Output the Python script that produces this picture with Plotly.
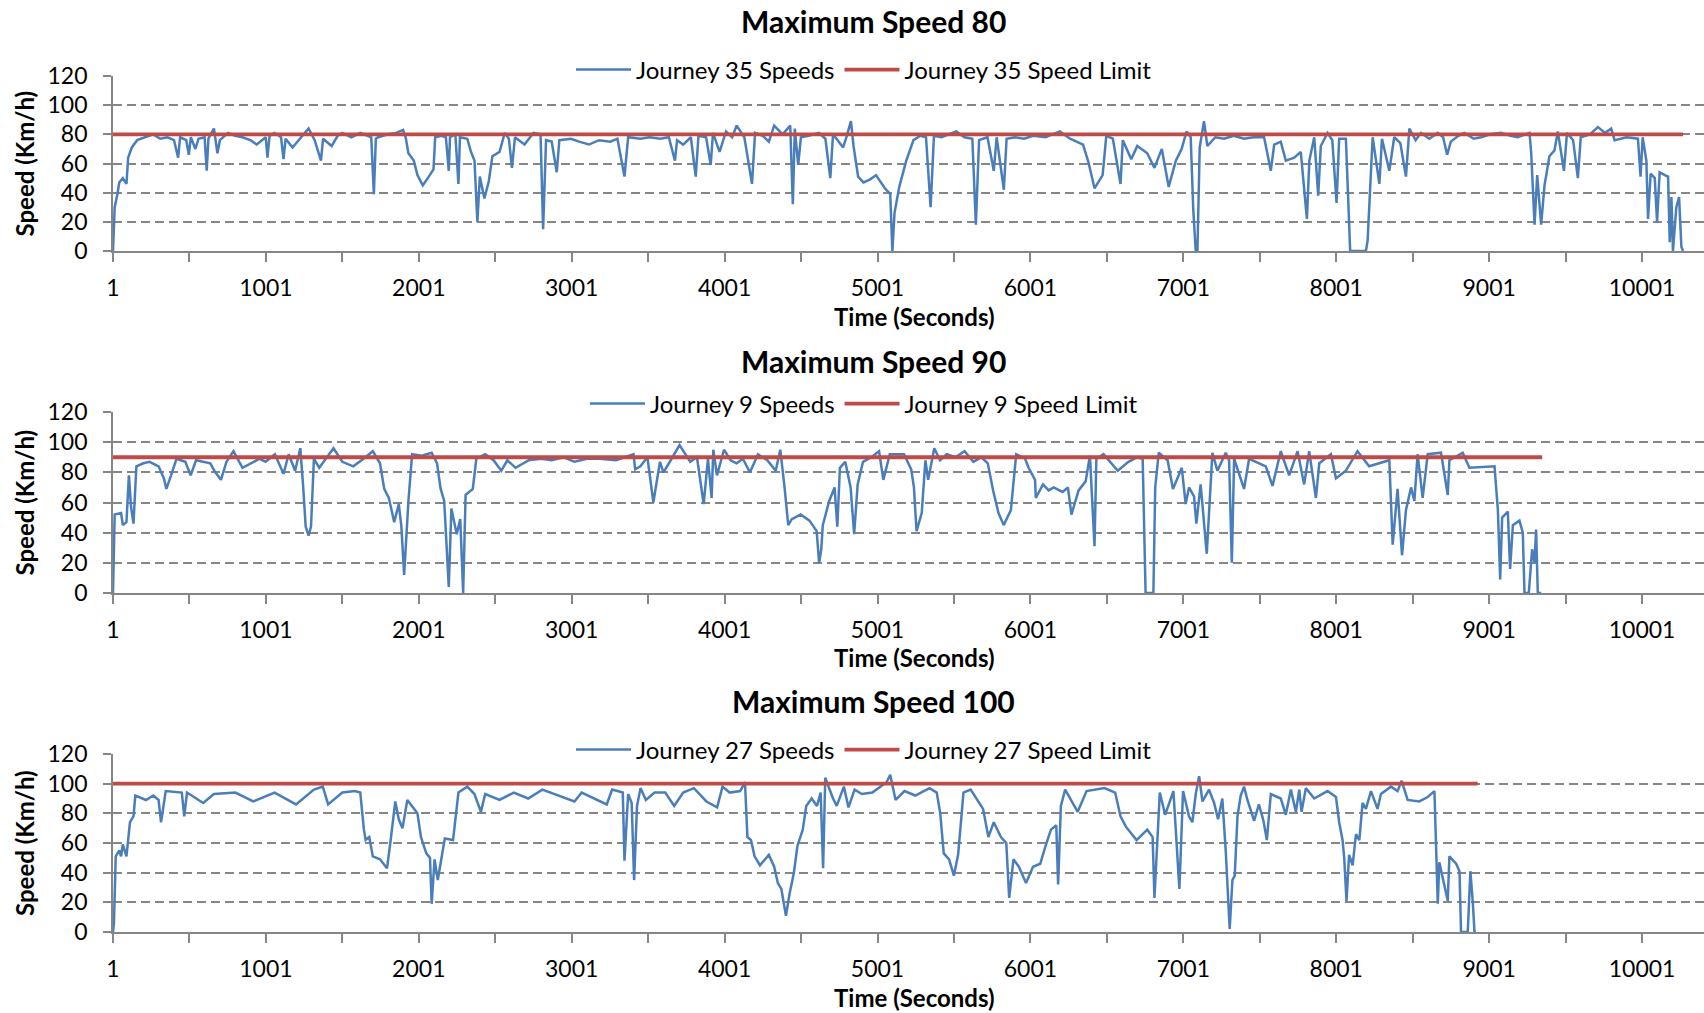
import plotly.graph_objects as go

# Journey 35, limit 80 km/h (time in seconds, speed in km/h)
j35_time = [
    1, 12, 30, 42, 65, 89, 100, 124, 159, 217,
    264, 310, 357, 400, 427, 440, 480, 497, 510, 540,
    560, 600, 614, 625, 661, 684, 700, 754, 800, 848,
    900, 941, 1000, 1011, 1025, 1058, 1100, 1116, 1130, 1175,
    1230, 1280, 1320, 1361, 1375, 1431, 1470, 1501, 1560, 1618,
    1690, 1707, 1720, 1735, 1800, 1852, 1898, 1915, 1933, 1968,
    1992, 2027, 2060, 2097, 2108, 2150, 2178, 2197, 2205, 2240,
    2260, 2270, 2318, 2342, 2365, 2384, 2400, 2430, 2459, 2482,
    2529, 2563, 2590, 2610, 2630, 2692, 2751, 2797, 2814, 2833,
    2870, 2903, 2920, 2996, 3050, 3113, 3180, 3253, 3300, 3346,
    3370, 3450, 3510, 3580, 3636, 3676, 3690, 3730, 3780, 3812,
    3830, 3880, 3910, 3925, 3968, 4010, 4050, 4080, 4130, 4180,
    4200, 4250, 4290, 4325, 4380, 4430, 4447, 4460, 4482, 4500,
    4550, 4617, 4660, 4692, 4710, 4776, 4800, 4827, 4844, 4874,
    4909, 4950, 4991, 5049, 5084, 5098, 5112, 5143, 5189, 5236,
    5280, 5318, 5348, 5370, 5420, 5470, 5516, 5570, 5621, 5644,
    5665, 5720, 5761, 5780, 5827, 5845, 5900, 5960, 6018, 6100,
    6193, 6260, 6345, 6380, 6420, 6473, 6497, 6540, 6590, 6605,
    6660, 6700, 6765, 6812, 6860, 6905, 6952, 6990, 7022, 7049,
    7066, 7082, 7093, 7108, 7136, 7158, 7210, 7267, 7330, 7398,
    7460, 7529, 7573, 7595, 7638, 7671, 7726, 7769, 7809, 7825,
    7857, 7883, 7900, 7944, 7975, 8003, 8020, 8064, 8092, 8195,
    8206, 8239, 8283, 8300, 8348, 8380, 8420, 8457, 8479, 8520,
    8555, 8610, 8664, 8700, 8726, 8750, 8800, 8839, 8900, 8948,
    9010, 9079, 9140, 9188, 9265, 9276, 9298, 9315, 9341, 9363,
    9395, 9428, 9450, 9490, 9510, 9550, 9581, 9600, 9660, 9712,
    9760, 9799, 9821, 9900, 9974, 9991, 10005, 10029, 10040, 10057,
    10084, 10099, 10116, 10150, 10171, 10182, 10193, 10203, 10225, 10243,
    10258, 10269,
]
j35_speed = [
    0, 30, 39, 47, 50, 46, 64, 71, 76, 78,
    80, 77, 78, 76, 64, 78, 76, 66, 78, 70,
    77, 78, 55, 77, 84, 67, 76, 81, 79, 78,
    76, 73, 78, 64, 79, 81, 78, 63, 77, 71,
    78, 84, 76, 62, 77, 72, 79, 81, 78, 81,
    78, 39, 77, 78, 80, 81, 83, 78, 67, 62,
    52, 45, 50, 56, 78, 79, 78, 55, 78, 80,
    46, 78, 77, 68, 62, 20, 51, 36, 48, 65,
    68, 81, 77, 57, 78, 73, 81, 80, 15, 76,
    75, 54, 76, 77, 75, 73, 76, 75, 77, 51,
    78, 77, 78, 77, 78, 62, 76, 73, 78, 51,
    79, 78, 59, 81, 68, 82, 78, 86, 78, 46,
    81, 79, 75, 86, 80, 86, 32, 84, 59, 78,
    79, 81, 77, 50, 80, 71, 79, 89, 72, 51,
    47, 49, 52, 43, 39, 0, 26, 44, 62, 76,
    79, 78, 30, 79, 78, 80, 82, 78, 77, 18,
    76, 78, 55, 78, 42, 77, 78, 77, 79, 78,
    82, 77, 73, 61, 43, 52, 79, 77, 46, 76,
    63, 72, 67, 57, 70, 44, 62, 70, 82, 78,
    28, 0, 0, 71, 89, 72, 78, 77, 79, 77,
    78, 78, 55, 73, 75, 62, 64, 68, 22, 62,
    78, 38, 72, 81, 76, 33, 77, 77, 0, 0,
    7, 78, 46, 77, 55, 78, 74, 51, 84, 76,
    81, 77, 81, 78, 66, 75, 79, 81, 77, 78,
    80, 81, 79, 78, 81, 67, 18, 52, 18, 45,
    65, 69, 82, 55, 81, 76, 50, 78, 80, 85,
    81, 84, 76, 78, 77, 51, 78, 62, 22, 53,
    50, 20, 54, 52, 51, 6, 37, 0, 30, 37,
    3, 0,
]
j35_limit = 80
j35_last = 10269

# Journey 9, limit 90 km/h
j9_time = [
    1, 12, 54, 65, 89, 105, 119, 135, 154, 200,
    240, 299, 334, 350, 381, 416, 474, 509, 544, 590,
    637, 670, 707, 743, 789, 848, 918, 960, 999, 1060,
    1116, 1150, 1192, 1226, 1245, 1261, 1280, 1296, 1315, 1350,
    1400, 1443, 1501, 1572, 1640, 1700, 1747, 1775, 1805, 1840,
    1870, 1887, 1905, 1933, 1957, 2020, 2085, 2120, 2144, 2167,
    2197, 2214, 2249, 2272, 2291, 2307, 2354, 2377, 2435, 2490,
    2540, 2580, 2634, 2720, 2800, 2870, 2949, 3019, 3100, 3183,
    3290, 3405, 3416, 3450, 3496, 3535, 3578, 3601, 3660, 3706,
    3776, 3820, 3864, 3892, 3916, 3927, 3951, 3997, 4040, 4079,
    4120, 4167, 4219, 4280, 4335, 4365, 4393, 4417, 4440, 4498,
    4556, 4603, 4619, 4633, 4643, 4685, 4720, 4738, 4755, 4790,
    4825, 4848, 4871, 4906, 4960, 5011, 5039, 5081, 5174, 5221,
    5239, 5256, 5290, 5314, 5332, 5372, 5410, 5454, 5510, 5570,
    5628, 5680, 5722, 5757, 5792, 5826, 5873, 5908, 5966, 5989,
    6031, 6036, 6083, 6120, 6153, 6211, 6246, 6269, 6316, 6362,
    6390, 6420, 6432, 6479, 6572, 6642, 6700, 6735, 6754, 6805,
    6817, 6840, 6898, 6933, 6991, 7016, 7038, 7071, 7086, 7114,
    7154, 7173, 7191, 7224, 7278, 7300, 7318, 7333, 7398, 7431,
    7540, 7584, 7638, 7693, 7748, 7791, 7824, 7868, 7890, 7966,
    7999, 8063, 8140, 8216, 8348, 8370, 8402, 8431, 8457, 8490,
    8512, 8533, 8566, 8599, 8686, 8730, 8741, 8828, 8872, 9036,
    9058, 9073, 9086, 9123, 9138, 9156, 9199, 9221, 9232, 9260,
    9282, 9297, 9308, 9319, 9341,
]
j9_speed = [
    0, 52, 53, 45, 47, 78, 57, 46, 84, 86,
    87, 84, 76, 69, 78, 89, 87, 78, 88, 87,
    86, 80, 75, 87, 94, 83, 87, 89, 87, 92,
    79, 92, 81, 96, 70, 44, 38, 44, 89, 83,
    90, 96, 87, 84, 89, 94, 86, 69, 63, 47,
    59, 44, 12, 61, 92, 91, 93, 86, 69, 61,
    4, 56, 39, 49, 0, 65, 69, 89, 92, 88,
    81, 88, 83, 88, 89, 88, 90, 87, 89, 89,
    88, 92, 82, 84, 90, 60, 87, 80, 90, 98,
    87, 90, 59, 89, 63, 95, 78, 95, 88, 86,
    89, 80, 92, 88, 81, 95, 70, 45, 49, 52,
    48, 41, 20, 29, 45, 61, 70, 44, 83, 87,
    70, 39, 72, 87, 90, 94, 75, 92, 92, 82,
    70, 41, 53, 88, 75, 96, 88, 92, 90, 94,
    87, 90, 86, 68, 53, 45, 55, 92, 89, 83,
    75, 63, 72, 68, 70, 67, 70, 52, 68, 74,
    91, 31, 89, 92, 81, 87, 90, 89, 0, 0,
    70, 93, 88, 69, 83, 59, 70, 64, 46, 72,
    26, 64, 93, 81, 93, 88, 20, 89, 69, 89,
    84, 71, 94, 78, 94, 72, 94, 63, 86, 92,
    76, 81, 94, 84, 88, 32, 69, 25, 55, 70,
    61, 92, 63, 92, 93, 65, 88, 93, 83, 84,
    55, 9, 50, 54, 16, 45, 48, 40, 0, 0,
    29, 20, 42, 0, 0,
]
j9_limit = 90
j9_last = 9348

# Journey 27, limit 100 km/h
j27_time = [
    1, 7, 19, 42, 54, 65, 89, 112, 135, 147,
    217, 264, 299, 315, 346, 451, 467, 485, 591, 661,
    801, 918, 1058, 1198, 1315, 1373, 1408, 1501, 1583, 1618,
    1642, 1653, 1677, 1700, 1747, 1793, 1817, 1847, 1870, 1894,
    1926, 1992, 2015, 2050, 2074, 2085, 2104, 2125, 2148, 2171,
    2225, 2260, 2318, 2365, 2407, 2435, 2529, 2622, 2716, 2809,
    3019, 3066, 3230, 3265, 3335, 3346, 3370, 3393, 3409, 3428,
    3451, 3486, 3543, 3613, 3671, 3730, 3800, 3882, 3952, 3987,
    4034, 4103, 4134, 4150, 4173, 4197, 4232, 4290, 4325, 4349,
    4372, 4402, 4426, 4454, 4477, 4512, 4535, 4570, 4605, 4629,
    4645, 4659, 4710, 4734, 4781, 4811, 4851, 4898, 4967, 5060,
    5084, 5119, 5177, 5248, 5341, 5388, 5411, 5434, 5469, 5500,
    5528, 5563, 5610, 5656, 5691, 5726, 5761, 5808, 5843, 5862,
    5890, 5925, 5972, 6018, 6065, 6100, 6135, 6170, 6182, 6200,
    6228, 6310, 6368, 6485, 6555, 6590, 6625, 6695, 6765, 6800,
    6812, 6847, 6882, 6936, 6975, 6999, 7038, 7060, 7082, 7104,
    7126, 7169, 7202, 7228, 7256, 7278, 7304, 7322, 7337, 7355,
    7376, 7398, 7420, 7464, 7495, 7525, 7547, 7573, 7638, 7671,
    7704, 7737, 7759, 7774, 7802, 7857, 7944, 7999, 8020, 8042,
    8053, 8068, 8085, 8108, 8130, 8152, 8173, 8195, 8228, 8271,
    8293, 8359, 8402, 8428, 8468, 8544, 8599, 8643, 8660, 8665,
    8675, 8730, 8741, 8785, 8807, 8817, 8861, 8878, 8894, 8905,
    8915,
]
j27_speed = [
    0, 6, 51, 55, 51, 59, 51, 74, 78, 92,
    89, 92, 89, 74, 95, 94, 78, 94, 87, 93,
    94, 88, 94, 86, 96, 98, 86, 94, 95, 94,
    69, 62, 64, 51, 49, 43, 62, 88, 76, 70,
    89, 80, 64, 53, 50, 19, 49, 35, 49, 63,
    62, 94, 98, 93, 81, 93, 89, 94, 90, 96,
    88, 94, 86, 96, 94, 48, 93, 87, 35, 85,
    97, 89, 94, 94, 85, 94, 97, 88, 84, 98,
    94, 95, 101, 64, 62, 51, 45, 52, 44, 33,
    29, 11, 26, 40, 58, 69, 85, 90, 85, 94,
    43, 104, 90, 85, 98, 84, 96, 93, 94, 101,
    106, 89, 95, 92, 97, 94, 80, 53, 49, 38,
    52, 94, 96, 89, 83, 64, 74, 64, 60, 23,
    49, 44, 33, 44, 46, 58, 69, 72, 32, 85,
    96, 81, 95, 97, 94, 78, 71, 62, 69, 64,
    23, 94, 79, 95, 29, 95, 78, 74, 93, 105,
    88, 96, 87, 76, 90, 55, 2, 35, 38, 78,
    92, 98, 89, 75, 86, 75, 62, 93, 90, 79,
    96, 81, 96, 81, 97, 90, 95, 91, 74, 62,
    50, 21, 52, 45, 66, 62, 87, 83, 95, 83,
    93, 98, 95, 102, 89, 88, 91, 95, 46, 19,
    47, 21, 51, 46, 41, 0, 0, 41, 20, 0,
    0,
]
j27_limit = 100
j27_last = 8926

x_tick_vals = [1, 501, 1001, 1501, 2001, 2501, 3001, 3501, 4001, 4501, 5001,
               5501, 6001, 6501, 7001, 7501, 8001, 8501, 9001, 9501, 10001]
x_tick_text = ["1", "", "1001", "", "2001", "", "3001", "", "4001", "", "5001",
               "", "6001", "", "7001", "", "8001", "", "9001", "", "10001"]

W, H = 1704, 1013
FONT = "Lato"
BLUE = "#4a7ebb"
RED = "#be4b48"
GREY = "#868686"

# title, series name, data, limit, last second, plot top/bottom px, title y, legend y, x-title y
panels = [
    ("Maximum Speed 80", "Journey 35", j35_time, j35_speed, j35_limit, j35_last, 76, 251, 21, 70, 316),
    ("Maximum Speed 90", "Journey 9", j9_time, j9_speed, j9_limit, j9_last, 412, 593, 361, 404, 657),
    ("Maximum Speed 100", "Journey 27", j27_time, j27_speed, j27_limit, j27_last, 754, 932, 701, 750, 997),
]

fig = go.Figure()
annotations = []
layout = {}

for i, (title, name, t, v, limit, last, top, bottom, ty, ly, xty) in enumerate(panels):
    n = "" if i == 0 else str(i + 1)
    leg = "legend" + n
    fig.add_trace(go.Scatter(
        x=t, y=v, mode="lines", name=name + " Speeds",
        line=dict(color=BLUE, width=2.5),
        xaxis="x" + n, yaxis="y" + n, legend=leg,
    ))
    fig.add_trace(go.Scatter(
        x=[1, last], y=[limit, limit], mode="lines", name=name + " Speed Limit",
        line=dict(color=RED, width=3.8),
        xaxis="x" + n, yaxis="y" + n, legend=leg,
    ))

    layout["xaxis" + n] = dict(
        domain=[113 / W, 1], anchor="y" + n, range=[1, 10406],
        tickmode="array", tickvals=x_tick_vals, ticktext=x_tick_text,
        ticks="outside", ticklen=9, tickwidth=1.5, tickcolor=GREY,
        showline=True, linecolor=GREY, linewidth=1.8,
        showgrid=False, zeroline=False, ticklabelstandoff=6,
        tickfont=dict(family=FONT, size=23, color="black"),
    )
    layout["yaxis" + n] = dict(
        domain=[1 - bottom / H, 1 - top / H], anchor="x" + n, range=[0, 120],
        tick0=0, dtick=20, ticks="outside", ticklen=8, tickwidth=1.5, tickcolor=GREY,
        showline=True, linecolor=GREY, linewidth=1.8,
        showgrid=True, gridcolor=GREY, gridwidth=1.8, griddash="9px,5px",
        zeroline=False, ticklabelstandoff=11,
        tickfont=dict(family=FONT, size=23, color="black"),
    )
    layout[leg] = dict(
        orientation="h", x=864 / W, xanchor="center", y=1 - ly / H, yanchor="middle",
        bgcolor="white", font=dict(family=FONT, size=24, color="black"),
        itemwidth=55,
    )

    annotations.append(dict(
        text="<b>" + title + "</b>", x=873 / W, y=1 - ty / H, xref="paper", yref="paper",
        xanchor="center", yanchor="middle", showarrow=False,
        font=dict(family=FONT, size=30, color="black"),
    ))
    annotations.append(dict(
        text="<b>Time (Seconds)</b>", x=914 / W, y=1 - xty / H, xref="paper", yref="paper",
        xanchor="center", yanchor="middle", showarrow=False,
        font=dict(family=FONT, size=24, color="black"),
    ))
    annotations.append(dict(
        text="<b>Speed (Km/h)</b>", x=24 / W, y=1 - (top + bottom) / 2 / H,
        xref="paper", yref="paper", xanchor="center", yanchor="middle",
        textangle=-90, showarrow=False,
        font=dict(family=FONT, size=24, color="black"),
    ))

fig.update_layout(
    width=W, height=H,
    margin=dict(l=0, r=0, t=0, b=0, autoexpand=False),
    paper_bgcolor="white", plot_bgcolor="white",
    annotations=annotations, **layout,
)

fig.write_html(
    "out.html",
    config={"displayModeBar": False},
    post_script="document.body.style.margin='0';",
)
